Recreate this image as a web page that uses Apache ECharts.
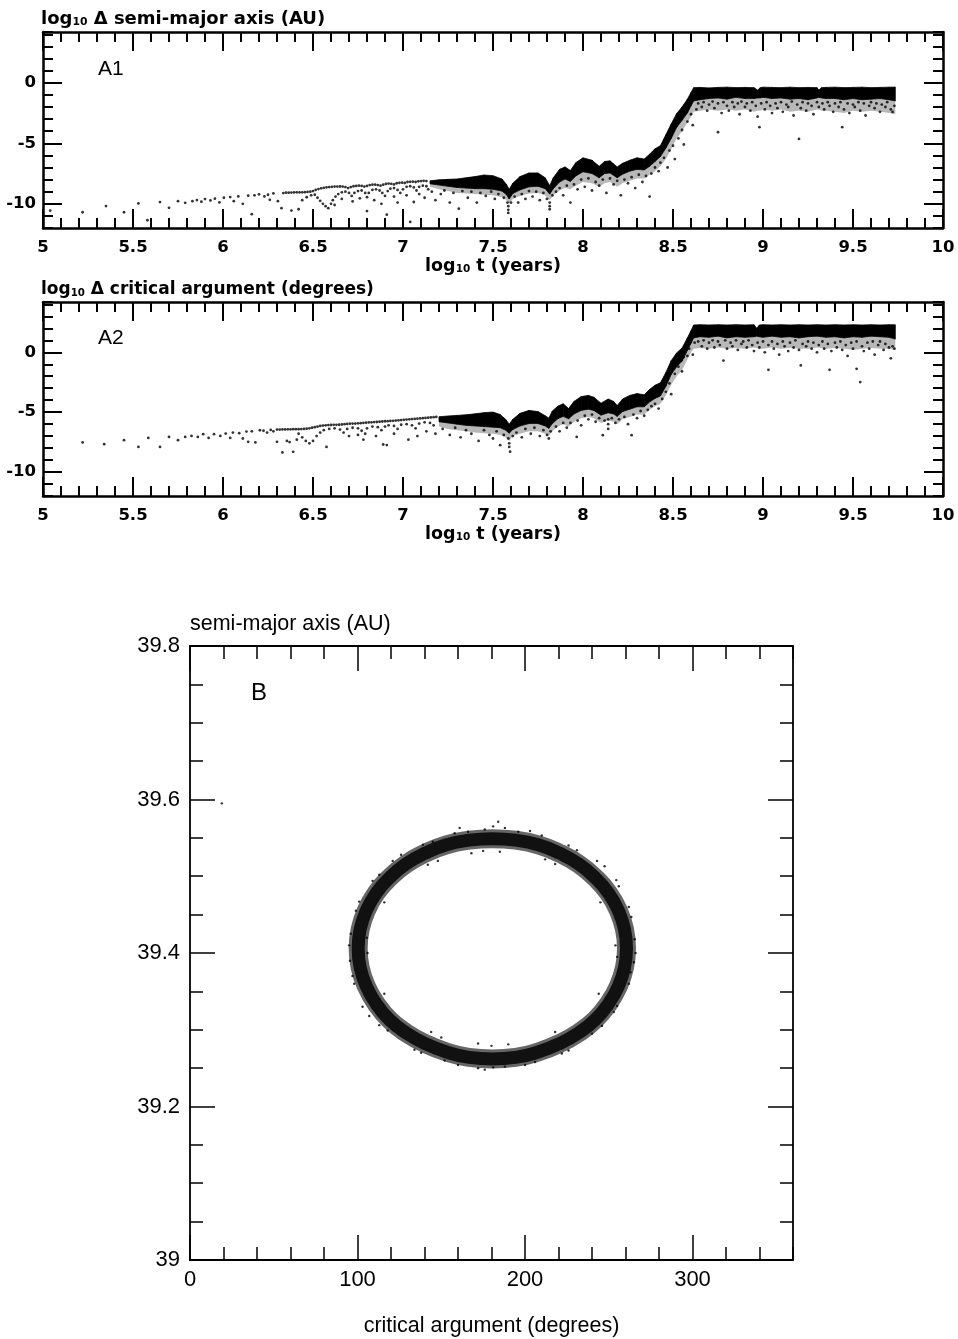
<!DOCTYPE html>
<html><head><meta charset="utf-8">
<script src="https://cdn.jsdelivr.net/npm/echarts@6/dist/echarts.min.js"></script>
<style>html,body{margin:0;padding:0;background:#fff}#c{width:958px;height:1339px}</style>
</head><body><div id="c"></div>
<script>
// ---------------- DATA ----------------
// Tick / label values
const aXTicks = [5, 5.5, 6, 6.5, 7, 7.5, 8, 8.5, 9, 9.5, 10];
const aYTicks = [-10, -5, 0];
const bXTicks = [0, 100, 200, 300];
const bYTicks = [39, 39.2, 39.4, 39.6, 39.8];

// Panel A1: dense core band (top/bottom) and speckled fringe bottom of log10 delta a, vs log10 t
const a1BandT   = [7.15,7.20,7.25,7.30,7.35,7.40,7.45,7.50,7.55,7.575,7.59,7.61,7.65,7.70,7.75,7.79,7.815,7.835,7.87,7.90,7.93,7.96,8.00,8.05,8.09,8.12,8.15,8.19,8.22,8.26,8.30,8.34,8.37,8.40,8.43,8.46,8.49,8.52,8.55,8.58,8.60,8.615,8.65,8.70,8.75,8.80,8.85,8.90,8.95,8.97,8.985,9.00,9.05,9.10,9.15,9.20,9.25,9.30,9.31,9.325,9.35,9.40,9.45,9.50,9.55,9.60,9.65,9.70,9.735];
const a1BandTop = [-8.10,-8.02,-7.98,-7.95,-7.85,-7.75,-7.62,-7.68,-7.95,-8.4,-8.8,-8.3,-7.75,-7.45,-7.45,-7.85,-8.5,-7.85,-7.15,-6.95,-7.25,-6.6,-6.2,-6.4,-6.9,-6.5,-6.45,-6.95,-6.65,-6.4,-6.2,-6.3,-5.9,-5.45,-5.2,-4.3,-3.4,-2.55,-2.0,-1.35,-0.8,-0.4,-0.38,-0.42,-0.38,-0.36,-0.4,-0.38,-0.4,-0.6,-0.4,-0.36,-0.38,-0.4,-0.36,-0.4,-0.38,-0.4,-0.6,-0.4,-0.38,-0.36,-0.4,-0.38,-0.36,-0.4,-0.38,-0.36,-0.35];
const a1BandBot = [-8.35,-8.45,-8.55,-8.65,-8.7,-8.75,-8.75,-8.8,-8.95,-9.25,-9.6,-9.15,-8.85,-8.6,-8.55,-8.75,-9.2,-8.75,-8.2,-7.95,-8.15,-7.7,-7.35,-7.5,-7.85,-7.5,-7.45,-7.85,-7.55,-7.3,-7.15,-7.2,-6.9,-6.5,-6.1,-5.4,-4.6,-3.7,-3.1,-2.5,-1.9,-1.5,-1.4,-1.3,-1.25,-1.35,-1.2,-1.3,-1.3,-1.25,-1.25,-1.2,-1.3,-1.25,-1.35,-1.3,-1.4,-1.25,-1.2,-1.25,-1.3,-1.3,-1.4,-1.3,-1.4,-1.35,-1.3,-1.4,-1.5];
const a1FringeBot = [-8.6,-8.8,-8.95,-9.1,-9.15,-9.2,-9.25,-9.3,-9.45,-9.7,-10.0,-9.6,-9.35,-9.15,-9.1,-9.3,-9.7,-9.3,-8.9,-8.7,-8.8,-8.5,-8.2,-8.3,-8.6,-8.3,-8.2,-8.6,-8.3,-8.1,-7.9,-7.9,-7.6,-7.3,-6.9,-6.3,-5.5,-4.6,-4.0,-3.3,-2.8,-2.4,-2.3,-2.2,-2.3,-2.2,-2.3,-2.2,-2.4,-2.3,-2.3,-2.2,-2.3,-2.2,-2.4,-2.3,-2.4,-2.2,-2.2,-2.3,-2.3,-2.4,-2.5,-2.3,-2.4,-2.3,-2.4,-2.5,-2.6];
// Panel A1: individual points [log10 t, log10 delta a]
const a1Dots = [
[5.04,-10.56],[5.22,-10.70],[5.35,-10.19],[5.45,-10.70],[5.53,-9.97],[5.58,-11.36],[5.65,-9.86],[5.70,-10.33],[5.75,-9.78],[5.79,-9.92],[5.83,-9.78],[5.855,-9.69],[5.88,-9.83],[5.90,-9.61],[5.93,-9.72],[5.955,-9.58],[5.98,-9.89],[6.005,-9.50],[6.04,-9.44],[6.06,-9.78],[6.085,-9.39],[6.11,-10.0],[6.14,-9.33],[6.16,-10.86],[6.175,-9.30],[6.20,-9.22],[6.23,-9.39],[6.25,-9.25],[6.26,-9.67],[6.28,-9.14],[6.305,-9.78],[6.325,-10.36],[6.335,-9.11],[6.35,-9.08],[6.365,-9.08],[6.38,-10.56],[6.38,-9.07],[6.395,-9.06],[6.41,-9.05],[6.42,-10.45],[6.425,-9.05],[6.44,-9.05],[6.44,-9.70],[6.455,-9.04],[6.465,-9.46],[6.47,-9.02],[6.485,-9.0],[6.49,-9.3],
[6.50,-8.95],[6.515,-8.85],[6.53,-8.78],[6.545,-8.72],[6.56,-8.68],[6.575,-8.64],[6.59,-8.62],[6.605,-8.6],[6.62,-8.58],[6.635,-8.58],[6.65,-8.57],[6.665,-8.58],[6.68,-8.62],[6.695,-8.7],[6.71,-8.62],[6.725,-8.55],[6.74,-8.52],[6.755,-8.5],[6.77,-8.52],[6.785,-8.58],[6.80,-8.52],[6.815,-8.45],[6.83,-8.42],[6.845,-8.42],[6.86,-8.45],[6.875,-8.5],[6.89,-8.42],[6.905,-8.36],[6.92,-8.33],[6.935,-8.35],[6.95,-8.4],[6.965,-8.3],[6.98,-8.27],[6.995,-8.25],[7.01,-8.28],[7.025,-8.2],[7.04,-8.18],[7.055,-8.17],[7.07,-8.2],[7.085,-8.14],[7.10,-8.12],[7.115,-8.1],[7.13,-8.12],
[6.51,-9.25],[6.525,-9.5],[6.54,-9.75],[6.555,-10.0],[6.57,-10.2],[6.585,-10.36],[6.60,-10.0],[6.61,-9.7],[6.625,-9.4],[6.64,-9.2],[6.66,-9.05],[6.68,-9.0],[6.70,-9.1],[6.715,-9.35],[6.73,-9.1],[6.75,-8.95],[6.77,-8.9],[6.79,-9.1],[6.80,-9.45],[6.81,-9.1],[6.83,-8.85],[6.85,-8.8],[6.87,-8.9],[6.885,-9.1],[6.90,-9.35],[6.915,-8.95],[6.93,-8.75],[6.95,-8.7],[6.97,-8.85],[6.985,-9.1],[7.00,-8.8],[7.02,-8.6],[7.04,-8.55],[7.06,-8.65],[7.075,-8.9],[7.09,-8.6],[7.11,-8.5],[7.13,-8.55],[7.14,-8.8],
[6.62,-10.1],[6.66,-9.6],[6.72,-9.8],[6.76,-9.55],[6.80,-10.6],[6.84,-9.7],[6.88,-10.0],[6.91,-10.9],[6.95,-9.4],[6.97,-9.9],[7.02,-9.3],[7.04,-11.5],[7.06,-9.85],[7.09,-9.2],[7.12,-9.5],[7.16,-9.0],[7.18,-9.7],[7.21,-9.2],[7.23,-8.9],[7.26,-9.9],[7.28,-9.1],[7.31,-10.4],[7.33,-8.95],[7.36,-9.5],[7.38,-9.0],[7.41,-9.9],[7.43,-9.1],[7.46,-9.35],[7.49,-9.0],[7.51,-9.6],[7.53,-9.2],[7.56,-9.5],[7.58,-9.9],[7.585,-10.2],[7.585,-10.5],[7.585,-10.75],[7.60,-9.9],[7.62,-9.4],[7.64,-9.9],[7.66,-9.2],[7.68,-9.6],[7.70,-8.95],[7.72,-9.4],[7.74,-9.0],[7.76,-9.7],[7.78,-9.1],[7.80,-9.6],[7.815,-9.9],[7.815,-10.2],[7.815,-10.45],[7.83,-9.3],[7.85,-9.0],[7.87,-8.7],[7.89,-9.3],[7.91,-8.5],[7.93,-9.9],[7.95,-8.4],[7.97,-8.8],[7.99,-8.0],[8.01,-8.6],[8.03,-7.9],[8.05,-8.9],[8.07,-8.2],[8.09,-8.5],[8.11,-8.0],[8.13,-9.1],[8.15,-7.9],[8.17,-8.4],[8.19,-8.1],[8.21,-9.3],[8.23,-8.0],[8.25,-8.3],[8.27,-7.8],[8.29,-8.7],[8.31,-7.6],[8.33,-8.2],[8.35,-7.7],[8.37,-9.4],[8.38,-7.5],[8.40,-7.0],[8.42,-7.3],[8.43,-6.6],[8.45,-6.2],[8.47,-7.0],[8.48,-5.6],[8.50,-5.2],[8.51,-6.3],[8.53,-4.6],[8.55,-3.9],[8.56,-5.1],[8.58,-3.2],[8.60,-2.6],[8.61,-3.5],[8.63,-2.2],
[8.64,-1.7],[8.66,-2.0],[8.67,-1.6],[8.69,-2.3],[8.70,-1.8],[8.72,-1.55],[8.73,-2.1],[8.75,-4.08],[8.75,-1.7],[8.77,-2.5],[8.78,-1.6],[8.80,-1.9],[8.81,-2.3],[8.83,-1.6],[8.84,-2.0],[8.86,-1.7],[8.87,-2.6],[8.88,-1.55],[8.90,-2.0],[8.91,-1.7],[8.93,-2.3],[8.94,-1.6],[8.96,-1.9],[8.97,-2.8],[8.98,-3.67],[8.99,-1.7],[9.01,-2.2],[9.02,-1.6],[9.04,-1.9],[9.05,-2.5],[9.07,-1.7],[9.08,-2.1],[9.10,-1.6],[9.11,-2.4],[9.13,-1.8],[9.14,-2.0],[9.16,-1.55],[9.17,-2.7],[9.19,-1.8],[9.20,-4.64],[9.21,-2.1],[9.22,-1.6],[9.24,-2.3],[9.25,-1.7],[9.27,-1.9],[9.28,-2.6],[9.30,-1.6],[9.31,-2.0],[9.33,-1.7],[9.34,-2.2],[9.36,-1.6],[9.37,-1.9],[9.39,-2.4],[9.40,-1.7],[9.42,-2.0],[9.43,-1.6],[9.44,-3.67],[9.45,-2.2],[9.47,-1.7],[9.48,-2.5],[9.50,-1.8],[9.51,-2.0],[9.53,-1.6],[9.54,-2.3],[9.56,-1.7],[9.57,-2.7],[9.59,-1.9],[9.60,-1.6],[9.62,-2.1],[9.63,-1.7],[9.65,-2.4],[9.66,-1.8],[9.68,-2.0],[9.69,-1.6],[9.71,-2.2],[9.72,-2.41],[9.73,-1.9]
];

// Panel A2: dense core band and speckled fringe bottom of log10 delta critical argument
const a2BandT   = [7.20,7.25,7.30,7.35,7.40,7.45,7.50,7.54,7.57,7.59,7.61,7.65,7.70,7.75,7.79,7.81,7.83,7.86,7.89,7.92,7.95,7.99,8.03,8.06,8.10,8.14,8.17,8.19,8.22,8.26,8.30,8.34,8.37,8.40,8.43,8.46,8.49,8.52,8.55,8.58,8.60,8.615,8.65,8.70,8.75,8.80,8.85,8.90,8.95,8.965,8.98,9.00,9.05,9.10,9.15,9.20,9.25,9.30,9.35,9.40,9.45,9.50,9.55,9.60,9.65,9.70,9.735];
const a2BandTop = [-5.38,-5.32,-5.27,-5.22,-5.14,-5.04,-4.99,-5.2,-5.6,-6.0,-5.6,-5.1,-4.85,-4.95,-5.3,-5.5,-4.9,-4.5,-4.3,-4.7,-4.1,-3.7,-3.6,-3.75,-4.25,-3.9,-4.1,-4.45,-3.9,-3.6,-3.45,-3.55,-3.1,-2.75,-2.55,-1.7,-0.7,-0.05,0.35,1.2,1.8,2.28,2.3,2.28,2.3,2.28,2.3,2.28,2.3,2.0,2.28,2.3,2.28,2.3,2.28,2.3,2.28,2.3,2.28,2.3,2.28,2.3,2.28,2.3,2.28,2.3,2.3];
const a2BandBot = [-5.8,-5.9,-6.0,-6.1,-6.15,-6.2,-6.25,-6.3,-6.5,-6.75,-6.45,-6.15,-5.95,-5.95,-6.15,-6.35,-5.95,-5.55,-5.35,-5.55,-5.15,-4.85,-4.75,-4.85,-5.25,-5.05,-5.15,-5.35,-4.95,-4.75,-4.55,-4.55,-4.15,-3.85,-3.65,-2.85,-1.85,-1.2,-0.75,0.15,0.75,1.2,1.3,1.25,1.35,1.2,1.3,1.25,1.3,1.35,1.3,1.25,1.35,1.25,1.3,1.2,1.3,1.35,1.25,1.3,1.2,1.3,1.25,1.35,1.3,1.25,1.1];
const a2FringeBot = [-6.2,-6.4,-6.5,-6.6,-6.7,-6.75,-6.8,-6.9,-7.1,-7.4,-7.0,-6.8,-6.6,-6.6,-6.8,-7.0,-6.6,-6.2,-6.0,-6.2,-5.8,-5.5,-5.4,-5.5,-5.9,-5.7,-5.8,-6.0,-5.6,-5.4,-5.2,-5.2,-4.8,-4.5,-4.3,-3.6,-2.7,-2.0,-1.5,-0.6,0.0,0.3,0.35,0.3,0.4,0.3,0.35,0.3,0.4,0.35,0.3,0.3,0.4,0.3,0.35,0.3,0.3,0.4,0.3,0.35,0.3,0.2,0.3,0.35,0.3,0.3,0.2];
// Panel A2: individual points
const a2Dots = [
[5.22,-7.53],[5.34,-7.67],[5.45,-7.34],[5.53,-7.90],[5.585,-7.15],[5.65,-7.90],[5.70,-7.07],[5.75,-7.34],[5.79,-7.07],[5.825,-6.98],[5.86,-7.07],[5.89,-6.84],[5.92,-7.15],[5.95,-6.84],[5.985,-6.98],[6.015,-6.79],[6.04,-7.15],[6.055,-6.70],[6.09,-6.75],[6.11,-7.2],[6.13,-6.62],[6.14,-7.48],[6.16,-6.6],[6.18,-7.53],[6.205,-6.51],[6.225,-6.55],[6.245,-6.70],[6.265,-6.48],[6.28,-6.6],[6.30,-7.48],[6.33,-8.36],[6.355,-7.40],[6.37,-7.5],[6.39,-8.31],[6.41,-7.3],
[6.30,-6.45],[6.315,-6.45],[6.33,-6.44],[6.345,-6.44],[6.36,-6.43],[6.375,-6.43],[6.39,-6.42],[6.405,-6.42],[6.42,-6.42],[6.435,-6.41],[6.45,-6.40],[6.465,-6.38],[6.48,-6.35],[6.495,-6.30],[6.51,-6.25],[6.525,-6.2],[6.54,-6.15],[6.555,-6.12],[6.57,-6.1],[6.585,-6.08],[6.60,-6.07],[6.615,-6.06],[6.63,-6.06],[6.645,-6.05],[6.66,-6.03],[6.675,-6.0],[6.69,-5.98],[6.705,-5.96],[6.72,-5.95],[6.735,-5.95],[6.75,-5.93],[6.765,-5.92],[6.78,-5.9],[6.795,-5.88],[6.81,-5.86],[6.825,-5.85],[6.84,-5.83],[6.855,-5.82],[6.87,-5.8],[6.885,-5.78],[6.90,-5.76],[6.915,-5.75],[6.93,-5.73],[6.945,-5.72],[6.96,-5.7],[6.975,-5.68],[6.99,-5.66],[7.005,-5.64],[7.02,-5.62],[7.035,-5.6],[7.05,-5.58],[7.065,-5.56],[7.08,-5.54],[7.095,-5.52],[7.11,-5.5],[7.125,-5.48],[7.14,-5.46],[7.155,-5.44],[7.17,-5.42],[7.185,-5.40],
[6.42,-6.8],[6.44,-7.1],[6.46,-7.4],[6.48,-7.6],[6.50,-7.4],[6.52,-7.0],[6.54,-6.7],[6.56,-6.5],[6.575,-7.9],[6.59,-6.4],[6.62,-6.35],[6.65,-6.45],[6.67,-6.7],[6.69,-6.4],[6.72,-6.3],[6.75,-6.35],[6.77,-6.55],[6.79,-6.8],[6.80,-6.35],[6.83,-6.2],[6.86,-6.25],[6.88,-6.5],[6.90,-6.2],[6.92,-6.1],[6.95,-6.15],[6.97,-6.4],[6.99,-6.05],[7.02,-6.0],[7.05,-6.1],[7.07,-6.35],[7.09,-5.95],[7.12,-5.85],[7.15,-5.9],[7.17,-6.1],
[6.70,-7.0],[6.75,-6.9],[6.78,-7.3],[6.85,-7.0],[6.89,-7.7],[6.91,-7.75],[6.95,-6.8],[7.03,-7.3],[7.08,-7.0],[7.13,-6.6],[7.18,-6.8],[7.22,-6.4],[7.26,-6.9],[7.29,-6.3],[7.32,-7.1],[7.35,-6.5],[7.38,-6.8],[7.42,-7.4],[7.45,-6.5],[7.48,-6.9],[7.50,-7.2],[7.52,-6.6],[7.54,-7.76],[7.56,-6.9],[7.585,-7.2],[7.59,-7.6],[7.59,-7.9],[7.595,-8.3],[7.61,-7.0],[7.63,-6.7],[7.66,-7.1],[7.68,-6.4],[7.71,-6.8],[7.73,-6.3],[7.76,-7.0],[7.78,-6.5],[7.80,-6.9],[7.81,-7.2],[7.82,-6.6],[7.85,-6.2],[7.87,-6.6],[7.89,-5.9],[7.91,-6.3],[7.93,-5.9],[7.965,-7.07],[7.97,-5.7],[7.99,-6.1],[8.01,-5.3],[8.03,-5.6],[8.05,-5.2],[8.07,-5.8],[8.09,-5.5],[8.11,-6.92],[8.12,-5.7],[8.14,-5.6],[8.14,-6.0],[8.14,-6.4],[8.16,-5.5],[8.18,-5.9],[8.20,-5.6],[8.23,-5.4],[8.25,-6.0],[8.27,-6.92],[8.28,-5.2],[8.30,-5.5],[8.32,-4.9],[8.34,-5.3],[8.36,-4.8],[8.38,-4.5],[8.40,-4.3],[8.42,-4.7],[8.44,-3.9],[8.46,-3.3],[8.48,-2.6],[8.49,-3.5],[8.51,-1.8],[8.53,-1.2],[8.55,-1.6],[8.56,-0.4],[8.58,-0.3],[8.59,0.3],[8.61,-0.2],[8.62,0.8],
[8.64,0.9],[8.66,0.5],[8.67,1.0],[8.69,0.3],[8.70,0.8],[8.72,1.0],[8.73,0.4],[8.75,0.9],[8.76,0.6],[8.78,-0.69],[8.79,1.0],[8.80,0.3],[8.82,0.8],[8.83,0.5],[8.85,1.0],[8.86,0.2],[8.88,0.7],[8.89,0.9],[8.91,0.4],[8.92,1.0],[8.94,0.6],[8.95,0.1],[8.97,0.8],[8.98,0.4],[9.00,0.9],[9.01,0.0],[9.03,-1.46],[9.03,0.6],[9.05,0.9],[9.06,0.3],[9.08,0.7],[9.09,-0.2],[9.11,0.9],[9.12,0.5],[9.14,0.1],[9.15,0.8],[9.17,0.4],[9.18,1.0],[9.20,0.2],[9.21,-1.1],[9.22,0.7],[9.24,0.5],[9.25,0.9],[9.27,0.3],[9.28,0.8],[9.30,0.0],[9.31,0.6],[9.33,0.9],[9.34,0.3],[9.36,0.7],[9.37,-1.46],[9.38,0.1],[9.40,0.8],[9.41,0.4],[9.43,0.9],[9.44,0.2],[9.46,0.6],[9.47,-0.3],[9.49,0.8],[9.50,0.3],[9.52,-1.38],[9.52,0.9],[9.54,-2.49],[9.55,0.5],[9.56,0.1],[9.58,0.8],[9.59,0.3],[9.61,0.9],[9.62,-0.2],[9.64,0.6],[9.65,0.9],[9.67,0.2],[9.68,0.7],[9.70,0.4],[9.71,-0.5],[9.72,0.5],[9.73,0.3]
];

// Panel B: libration ring [critical argument (deg), semi-major axis (AU)]
const ringCenter = [[260.6,39.406],[259.4,39.431],[255.8,39.455],[249.9,39.478],[241.9,39.498],[232.0,39.516],[220.6,39.530],[207.9,39.541],[194.4,39.547],[180.5,39.549],[166.6,39.547],[153.1,39.541],[140.4,39.530],[129.0,39.516],[119.1,39.498],[111.1,39.478],[105.2,39.455],[101.6,39.431],[100.4,39.406],[101.6,39.381],[105.2,39.357],[111.1,39.334],[119.1,39.313],[129.0,39.296],[140.4,39.282],[153.1,39.271],[166.6,39.264],[180.5,39.262],[194.4,39.264],[207.9,39.271],[220.6,39.282],[232.0,39.296],[241.9,39.313],[249.9,39.334],[255.8,39.357],[259.4,39.381],[260.6,39.406]];
const ringFringe = [[266.0,39.400],[265.5,39.418],[265,39.388],[263.5,39.447],[262,39.46],[256,39.487],[254.5,39.495],[247.5,39.513],[243,39.520],[226,39.540],[231,39.534],[210,39.553],[203,39.559],[196,39.558],[188,39.563],[181,39.565],[176,39.561],[184,39.571],[166,39.558],[158,39.556],[161,39.563],[145,39.545],[139,39.541],[126,39.528],[121,39.520],[109,39.494],[113,39.502],[99,39.455],[101,39.467],[95,39.41],[95.5,39.39],[96,39.425],[97,39.37],[98,39.36],[103,39.33],[107,39.318],[118,39.299],[113,39.306],[134,39.274],[138,39.270],[152,39.260],[160,39.254],[172,39.250],[181,39.251],[188,39.252],[176,39.248],[200,39.254],[206,39.258],[222,39.269],[226,39.273],[240,39.295],[246,39.305],[253,39.323],[255,39.331],[262,39.36],[263,39.375],
[254,39.41],[255,39.395],[245,39.466],[218,39.516],[212,39.522],[185,39.532],[175,39.533],[168,39.530],[142,39.515],[148,39.520],[116,39.466],[106,39.40],[105.5,39.42],[116,39.347],[144,39.297],[150,39.290],[180,39.279],[190,39.281],[172,39.282],[218,39.297],[244,39.347],[19,39.595]];

// ---------------- CHART ----------------
const FA = 'DejaVu Sans', FB = 'Liberation Sans';
function axisSet(dim, gridIndex, s) {
  const posMain = dim === 'x' ? 'bottom' : 'left';
  const posMirror = dim === 'x' ? 'top' : 'right';
  const lineStyle = { color: '#000', width: s.lineW };
  const tickStyle = { color: '#000', width: s.tickW };
  const make = (pos, major, withLabels) => {
    const ax = {
      type: 'value', gridIndex: gridIndex, position: pos, min: s.min, max: s.max, interval: s.minorStep,
      splitLine: { show: false }, splitArea: { show: false }, silent: true,
      axisLine: { show: major, onZero: false, lineStyle: lineStyle },
      axisTick: major ? { show: true, inside: true, length: s.majorLen, customValues: s.majorTicks, lineStyle: tickStyle }
                      : { show: true, inside: true, length: s.minorLen, lineStyle: tickStyle },
      axisLabel: withLabels ? { show: true, customValues: s.labels, margin: s.labelMargin, color: '#000', fontFamily: s.font, fontSize: s.fontSize, fontWeight: s.fontWeight, showMinLabel: true, showMaxLabel: true }
                            : { show: false }
    };
    if (withLabels && s.name) {
      ax.name = s.name; ax.nameLocation = 'middle'; ax.nameGap = s.nameGap; ax.nameTextStyle = s.nameTextStyle;
    }
    return ax;
  };
  return [make(posMain, true, true), make(posMain, false, false), make(posMirror, true, false), make(posMirror, false, false)];
}
const subRich = (size) => ({
  n: { fontFamily: FA, fontWeight: 'bold', fontSize: size, color: '#000', lineHeight: 26, verticalAlign: 'bottom' },
  s: { fontFamily: FA, fontWeight: 'bold', fontSize: size * 0.6, color: '#000', lineHeight: 10, verticalAlign: 'bottom' }
});
const aX = (gi) => axisSet('x', gi, { min: 5, max: 10, minorStep: 0.1, majorTicks: aXTicks, labels: aXTicks, lineW: 2.5, tickW: 2, majorLen: 19, minorLen: 10, labelMargin: 11, font: FA, fontSize: 16.5, fontWeight: 'bold',
  name: '{n|log}{s|10}{n| t (years)}', nameGap: 21, nameTextStyle: { rich: subRich(17.5) } });
const aY = (gi) => axisSet('y', gi, { min: -12, max: 4.2, minorStep: 1, majorTicks: aYTicks, labels: aYTicks, lineW: 2.5, tickW: 2, majorLen: 19, minorLen: 10, labelMargin: 7, font: FA, fontSize: 16.5, fontWeight: 'bold' });
const bX = axisSet('x', 2, { min: 0, max: 360, minorStep: 20, majorTicks: bXTicks, labels: bXTicks, lineW: 1.8, tickW: 1.5, majorLen: 25, minorLen: 13, labelMargin: 9, font: FB, fontSize: 22, fontWeight: 'normal',
  name: 'critical argument (degrees)', nameGap: 55, nameTextStyle: { fontFamily: FB, fontSize: 21.5, color: '#000' } });
const bY = axisSet('y', 2, { min: 39, max: 39.8, minorStep: 0.05, majorTicks: bYTicks, labels: bYTicks, lineW: 1.8, tickW: 1.5, majorLen: 25, minorLen: 13, labelMargin: 10, font: FB, fontSize: 22, fontWeight: 'normal' });

function segs(t, top, bot) {
  const out = [];
  for (let i = 0; i < t.length - 1; i++) out.push([t[i], t[i + 1], top[i], top[i + 1], bot[i], bot[i + 1]]);
  return out;
}
function bandSeries(ai, data, fill, stroke) {
  return {
    type: 'custom', xAxisIndex: ai, yAxisIndex: ai, silent: true,
    encode: { x: [0, 1], y: [2, 3, 4, 5] },
    renderItem: function (params, api) {
      const p1 = api.coord([api.value(0), api.value(2)]);
      const p2 = api.coord([api.value(1), api.value(3)]);
      const p3 = api.coord([api.value(1), api.value(5)]);
      const p4 = api.coord([api.value(0), api.value(4)]);
      return { type: 'polygon', shape: { points: [p1, p2, p3, p4] }, style: { fill: fill, stroke: stroke, lineWidth: stroke === 'none' ? 0 : 0.8 } };
    },
    data: data
  };
}
function dotSeries(ai, data, size) {
  return { type: 'scatter', xAxisIndex: ai, yAxisIndex: ai, silent: true, symbol: 'circle', symbolSize: size, itemStyle: { color: '#000' }, data: data };
}

const chart = echarts.init(document.getElementById('c'), null, { renderer: 'canvas' });
chart.setOption({
  animation: false,
  backgroundColor: '#fff',
  grid: [
    { left: 43, top: 32, width: 900, height: 196 },
    { left: 43, top: 302, width: 900, height: 194 },
    { left: 190, top: 646, width: 603, height: 614 }
  ],
  xAxis: [].concat(aX(0), aX(1), bX),
  yAxis: [].concat(aY(0), aY(1), bY),
  title: [
    { text: '{n|log}{s|10}{n| Δ semi-major axis (AU)}', left: 41, top: 2, padding: 0, textStyle: { rich: subRich(18) } },
    { text: '{n|log}{s|10}{n| Δ critical argument (degrees)}', left: 41, top: 272, padding: 0, textStyle: { rich: subRich(17) } },
    { text: 'semi-major axis (AU)', left: 190, top: 613, padding: 0, textStyle: { fontFamily: FB, fontSize: 21.5, fontWeight: 'normal', color: '#000' } }
  ],
  graphic: [
    { type: 'text', left: 98, top: 59, style: { text: 'A1', fontFamily: FB, fontSize: 21, fill: '#000' } },
    { type: 'text', left: 98, top: 328, style: { text: 'A2', fontFamily: FB, fontSize: 21, fill: '#000' } },
    { type: 'text', left: 251, top: 681, style: { text: 'B', fontFamily: FB, fontSize: 24, fill: '#000' } }
  ],
  series: [
    bandSeries(0, segs(a1BandT, a1BandBot, a1FringeBot), 'rgba(0,0,0,0.28)', 'none'),
    bandSeries(0, segs(a1BandT, a1BandTop, a1BandBot), '#000', '#000'),
    dotSeries(0, a1Dots, 2.8),
    bandSeries(4, segs(a2BandT, a2BandBot, a2FringeBot), 'rgba(0,0,0,0.28)', 'none'),
    bandSeries(4, segs(a2BandT, a2BandTop, a2BandBot), '#000', '#000'),
    dotSeries(4, a2Dots, 2.8),
    { type: 'line', xAxisIndex: 8, yAxisIndex: 8, silent: true, data: ringCenter, smooth: true, symbol: 'none',
      lineStyle: { color: 'rgba(0,0,0,0.6)', width: 19, cap: 'round', join: 'round' } },
    { type: 'line', xAxisIndex: 8, yAxisIndex: 8, silent: true, data: ringCenter, smooth: true, symbol: 'none',
      lineStyle: { color: '#111', width: 13, cap: 'round', join: 'round' } },
    dotSeries(8, ringFringe, 2.4)
  ]
});
</script></body></html>
